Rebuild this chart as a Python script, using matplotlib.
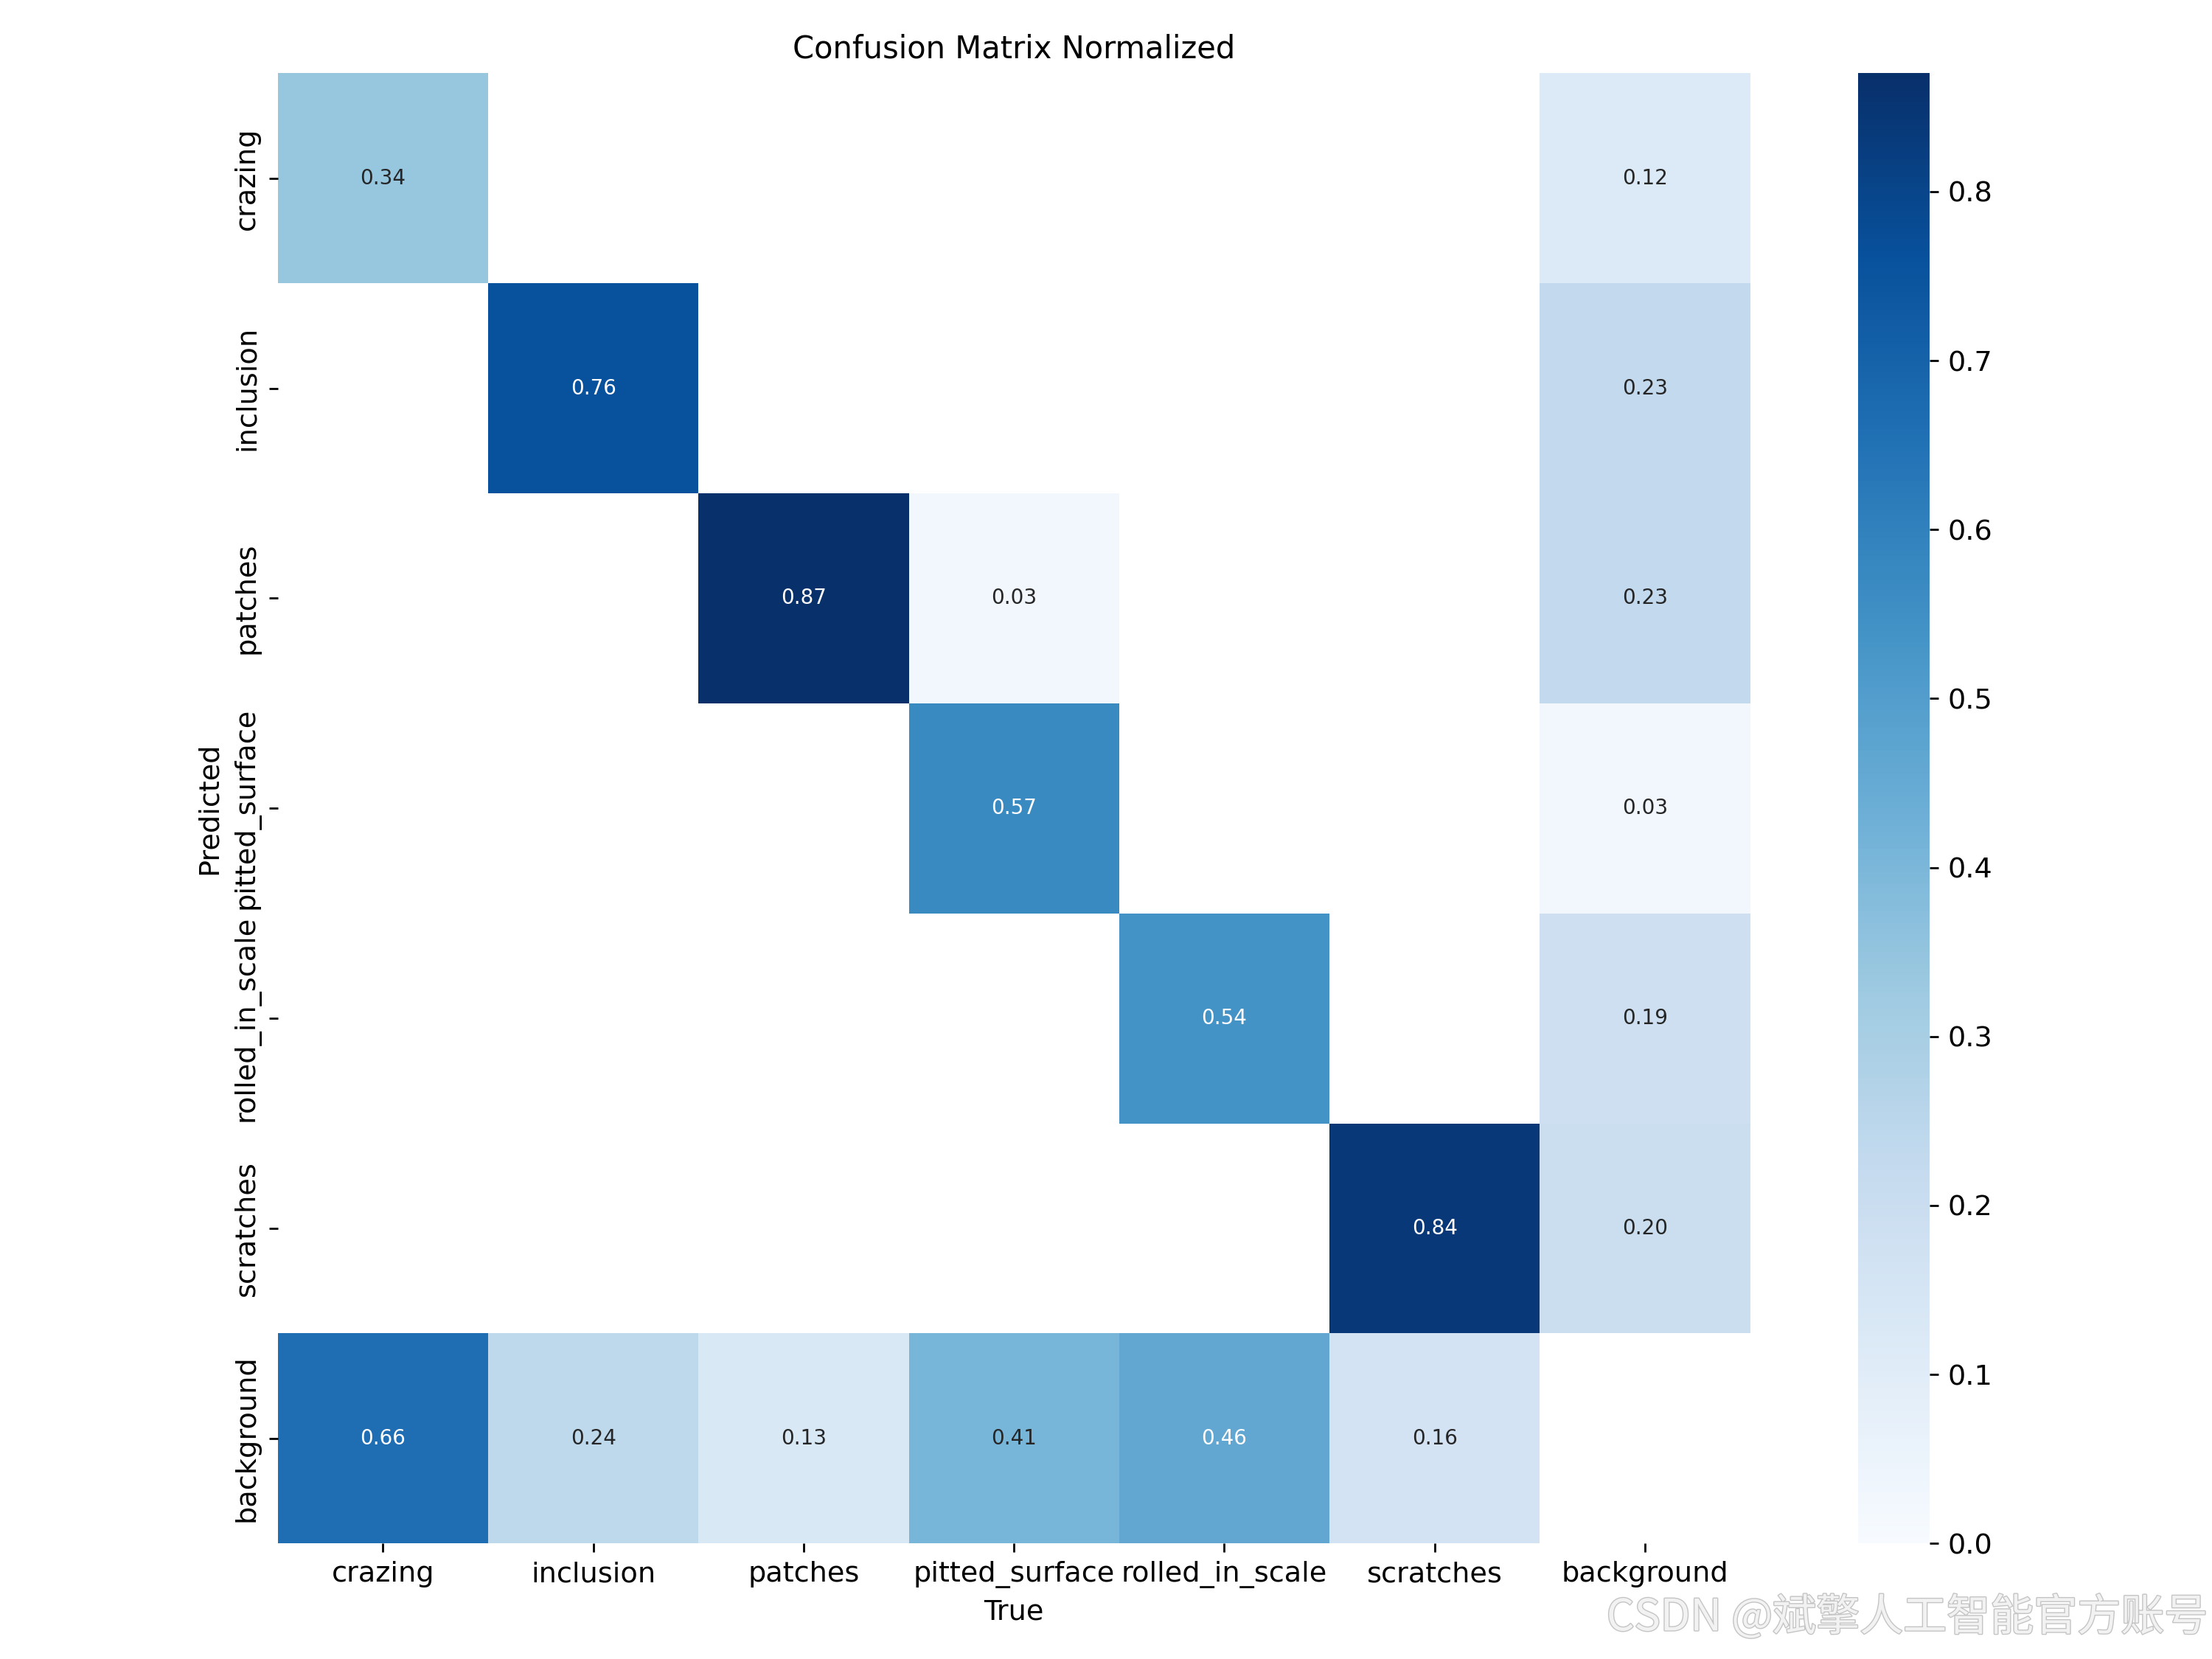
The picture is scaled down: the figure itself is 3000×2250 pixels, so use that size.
import matplotlib
matplotlib.use('Agg')
import matplotlib.pyplot as plt
import matplotlib.patheffects as pe
import seaborn as sn
import numpy as np

names = ['crazing', 'inclusion', 'patches', 'pitted_surface', 'rolled_in_scale', 'scratches']
labels = names + ['background']
nan = np.nan

# rows = predicted, columns = true
crazing_row = [0.34, nan, nan, nan, nan, nan, 0.12]
inclusion_row = [nan, 0.76, nan, nan, nan, nan, 0.23]
patches_row = [nan, nan, 0.87, 0.03, nan, nan, 0.23]
pitted_row = [nan, nan, nan, 0.57, nan, nan, 0.03]
rolled_row = [nan, nan, nan, nan, 0.54, nan, 0.19]
scratches_row = [nan, nan, nan, nan, nan, 0.84, 0.20]
background_row = [0.66, 0.24, 0.13, 0.41, 0.46, 0.16, nan]

array = np.array([crazing_row, inclusion_row, patches_row, pitted_row,
                  rolled_row, scratches_row, background_row])

fig = plt.figure(figsize=(12, 9), dpi=250)
ax = fig.add_axes([0.1256, 0.0697, 0.6656, 0.8861])
cax = fig.add_axes([0.8399, 0.0697, 0.0325, 0.8861])
sn.heatmap(array, ax=ax, cbar_ax=cax, annot=True, annot_kws={"size": 8}, cmap='Blues',
           fmt='.2f', square=False, vmin=0.0,
           xticklabels=labels, yticklabels=labels).set_facecolor((1, 1, 1))
ax.set_xlabel('True', fontsize=11)
ax.set_ylabel('Predicted', fontsize=11)
ax.set_title('Confusion Matrix Normalized', fontsize=12)
ax.tick_params(labelsize=11)
cax.tick_params(labelsize=11)

fig.text(0.998, 0.011, 'CSDN @斌擎人工智能官方账号', ha='right', va='bottom', fontsize=17,
         color='#f2f2f2', family=['Noto Sans CJK SC', 'DejaVu Sans'],
         path_effects=[pe.withStroke(linewidth=0.8, foreground='#c4c4c4')])

fig.savefig('out.png', dpi=250)
plt.close(fig)
